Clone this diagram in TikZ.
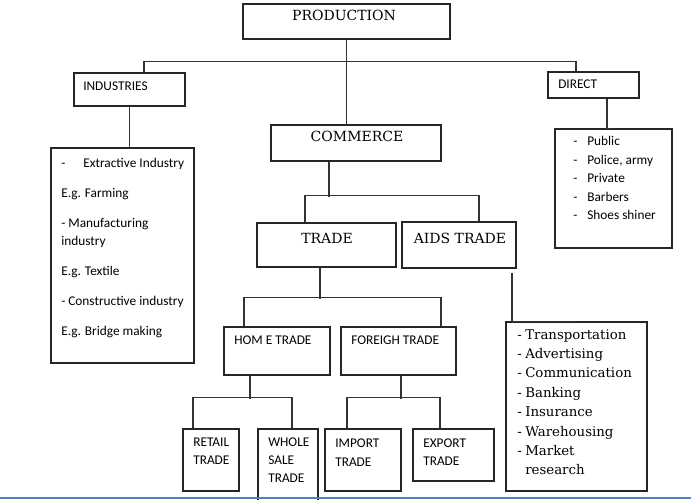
\documentclass[tikz,border=0pt]{standalone}
\usepackage{fontspec}
\setmainfont{Carlito}
\newfontfamily\bookfont{DejaVu Serif}
\usetikzlibrary{calc,fit}
\definecolor{pageblue}{RGB}{79,129,189}
\newcommand{\dashitem}[2]{\makebox[#1][l]{-}#2}

\begin{document}
\begin{tikzpicture}[x=0.75pt, y=-0.75pt,
    box/.style={draw=black!85, line width=0.8pt, inner sep=0pt},
    link/.style={draw=black!80, line width=0.8pt},
    head/.style={font=\bookfont\fontsize{10.5}{13}\selectfont, inner sep=0pt, anchor=base},
    lbl/.style={font=\fontsize{10}{13.5}\selectfont, inner sep=0pt, align=left, anchor=north west}]
    \useasboundingbox (0,0) rectangle (691,499);

    % Boxes
    \node[box, fit={(243,4) (450,39)}] (prod) {};
    \node[box, fit={(74,73) (185,106)}] (ind) {};
    \node[box, fit={(548,72) (639,98)}] (dir) {};
    \node[box, fit={(51,148) (194,363)}] (ilist) {};
    \node[box, fit={(555,129) (672,248)}] (dlist) {};
    \node[box, fit={(271,125) (441,161)}] (comm) {};
    \node[box, fit={(257,223) (396,267)}] (trade) {};
    \node[box, fit={(402,222) (516,268)}] (aids) {};
    \node[box, fit={(506,322) (647,491)}] (alist) {};
    \node[box, fit={(224,327) (330,375)}] (home) {};
    \node[box, fit={(341,327) (456,375)}] (foreign) {};
    \node[box, fit={(183,429) (239,491)}] (retail) {};
    \node[box, fit={(258,429) (318,503)}] (whole) {};
    \node[box, fit={(325,429) (401,491)}] (import) {};
    \node[box, fit={(413,429) (494,481)}] (export) {};

    % Titles
    \node[head] (prod-t) at (344,21) {PRODUCTION};
    \node[head] (comm-t) at (357,142) {COMMERCE};
    \node[head] (trade-t) at (327,243) {TRADE};
    \node[head] (aids-t) at (460,243) {AIDS TRADE};
    \node[lbl, anchor=base west] (ind-t) at (83,90.3) {INDUSTRIES};
    \node[lbl, anchor=base west] (dir-t) at (558,88.3) {DIRECT};
    \node[lbl, anchor=base west] (home-t) at (234,344.3) {HOM E TRADE};
    \node[lbl, anchor=base west] (foreign-t) at (351,344.3) {FOREIGH TRADE};
    \node[lbl] (retail-t) at (193,437.7) {RETAIL\\TRADE};
    \node[lbl] (whole-t) at (268,437.7) {WHOLE\\SALE\\TRADE};
    \node[lbl] (import-t) at (335,438.7) {IMPORT\\[0.75pt]TRADE};
    \node[lbl] (export-t) at (423,438.7) {EXPORT\\TRADE};

    % Lists
    \node[lbl] (ilist-t) at (61,158) {\dashitem{16.5pt}{Extractive Industry}\\[9pt]
        E.g. Farming\\[9pt]
        - Manufacturing\\
        industry\\[9pt]
        E.g. Textile\\[9pt]
        - Constructive industry\\[9pt]
        E.g. Bridge making};
    \node[lbl, font=\fontsize{10}{13.9}\selectfont] (dlist-t) at (573,136) {\dashitem{10.5pt}{Public}\\
        \dashitem{10.5pt}{Police, army}\\
        \dashitem{10.5pt}{Private}\\
        \dashitem{10.5pt}{Barbers}\\
        \dashitem{10.5pt}{Shoes shiner}};
    \node[lbl, font=\bookfont\fontsize{10}{14.55}\selectfont] (alist-t) at (517,329) {\dashitem{6pt}{Transportation}\\
        \dashitem{6pt}{Advertising}\\
        \dashitem{6pt}{Communication}\\
        \dashitem{6pt}{Banking}\\
        \dashitem{6pt}{Insurance}\\
        \dashitem{6pt}{Warehousing}\\
        \dashitem{6pt}{Market}\\
        \hspace*{6pt}research};

    % Connectors
    \draw[link] (prod.south) -- (prod.south |- comm.north);
    \draw[link] ($(ind.north)+(14.5,0)$) -- ++(0,-11) -| ($(dir.north)+(-17.5,0)$);
    \draw[link] (ind.south) -- (ind.south |- ilist.north);
    \draw[link] ($(dir.south)+(13.5,0)$) |- (dlist.north);
    \draw[link] ($(comm.south)+(-27,0)$) -- ++(0,35);
    \draw[link] ($(trade.north)+(-21.5,0)$) -- ++(0,-27) -| ($(aids.north)+(20,0)$);
    \draw[link] ($(aids.south)+(53,4)$) |- (alist.north);
    \draw[link] ($(trade.south)+(-6.5,0)$) -- ++(0,31);
    \draw[link] ($(home.north)+(-33,0)$) -- ++(0,-29) -| ($(foreign.north)+(42.5,0)$);
    \draw[link] ($(home.south)+(-27,0)$) -- ++(0,23);
    \draw[link] ($(retail.north)+(-18,0)$) -- ++(0,-31) -| ($(whole.north)+(4,0)$);
    \draw[link] ($(foreign.south)+(2.5,0)$) -- ++(0,23);
    \draw[link] ($(import.north)+(-16,0)$) -- ++(0,-31) -| ($(export.north)+(-13.5,0)$);

    % Page edge
    \draw[pageblue, line width=1.2pt] (0,498) -- (691,498);
\end{tikzpicture}
\end{document}
